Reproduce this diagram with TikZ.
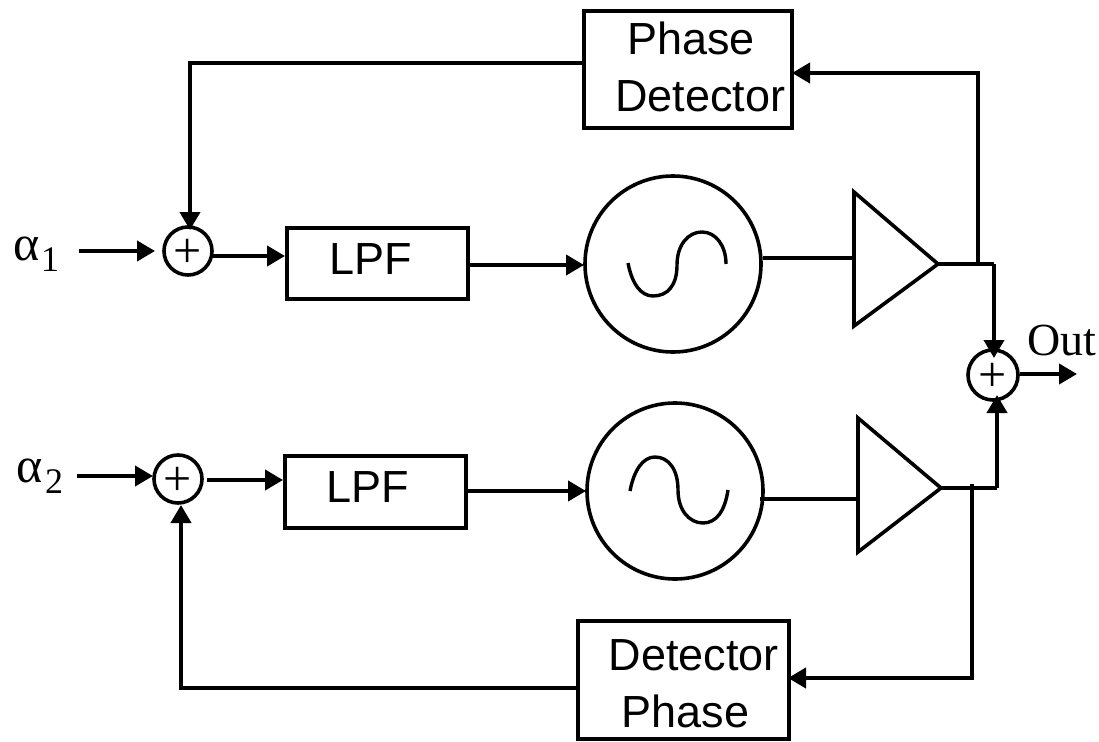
\documentclass[tikz,border=0pt]{standalone}
\usepackage{fontspec}
\setmainfont{Liberation Sans}
\newfontfamily\serifa{Liberation Serif}
\usetikzlibrary{arrows.meta}
\tikzset{
  x=1pt,y=-1pt,
  box/.style={draw,line width=4pt,inner sep=0pt},
  txt/.style={inner sep=0pt,anchor=base west,font=\fontsize{45}{52}\selectfont},
  sumn/.style={draw,circle,line width=3.6pt,minimum size=48pt,inner sep=0pt},
  plus/.style={inner sep=0pt,font=\serifa\fontsize{50}{50}\selectfont},
  osc/.style={draw,circle,line width=3.6pt,minimum size=176pt,inner sep=0pt},
  wave/.style={line width=3.4pt},
  wire/.style={line width=4pt},
  arr/.style={line width=4pt,-{Triangle[length=18pt,width=20pt]}},
  lab/.style={inner sep=0pt,anchor=base west,font=\serifa\fontsize{50}{50}\selectfont},
  subl/.style={inner sep=0pt,anchor=base west,font=\serifa\fontsize{36}{36}\selectfont},
  amp/.style={draw,line width=3.6pt,line join=miter,fill=white}
}
\begin{document}
\begin{tikzpicture}
\useasboundingbox (0,0) rectangle (1099,741);
\node[box,minimum width=208pt,minimum height=117pt] (pd1) at (688,69.5) {};
\node[txt] (pd1a) at (627,55) {Phase};
\node[txt] (pd1b) at (615,112) {Detector};
\node[box,minimum width=181pt,minimum height=71pt] (lpf1) at (377.5,263.5) {};
\node[txt] (lpf1t) at (329.5,274) {LPF};
\node[box,minimum width=181pt,minimum height=72pt] (lpf2) at (375.5,492) {};
\node[txt] (lpf2t) at (326.5,502) {LPF};
\node[box,minimum width=211pt,minimum height=118pt] (pd2) at (683.5,680) {};
\node[txt] (pd2a) at (608.5,670) {Detector};
\node[txt] (pd2b) at (621.5,727) {Phase};
\node[sumn] (s1) at (188,251) {};
\node[plus] (p1) at (188,253) {+};
\node[sumn] (s2) at (178,479) {};
\node[plus] (p2) at (178,481) {+};
\node[sumn,minimum size=50pt] (s3) at (993,375) {};
\node[plus] (p3) at (993,377) {+};
\node[osc] (o1) at (673,264) {};
\node[osc] (o2) at (675,491) {};
\draw[wave] (628,263) .. controls (632,284) and (641,296) .. (653,296) .. controls (668,296) and (677,285) .. (677,265) .. controls (677,245) and (688,232) .. (702,232) .. controls (716,232) and (726,246) .. (726,264);
\draw[wave] (630,491) .. controls (634,470) and (643,457) .. (655,457) .. controls (669,457) and (678,470) .. (678,490) .. controls (678,510) and (689,523) .. (703,523) .. controls (717,523) and (725,510) .. (728,490);
\coordinate (a1) at (854,192);
\coordinate (a1b) at (854,326);
\coordinate (a1t) at (938,264);
\coordinate (a2) at (858,418);
\coordinate (a2b) at (858,552);
\coordinate (a2t) at (941,488);
\draw[amp] (a1) -- (a1t) -- (a1b) -- cycle;
\draw[amp] (a2) -- (a2t) -- (a2b) -- cycle;
\node[lab] (alpha1) at (13,260) {α};
\node[subl] (sub1) at (41,271) {1};
\node[lab] (alpha2) at (16,482) {α};
\node[subl] (sub2) at (45,493) {2};
\node[inner sep=0pt,font=\serifa\fontsize{46}{46}\selectfont] (out) at (1062,340) {Out};
\coordinate (in1) at (79,251);
\coordinate (in2) at (77,476);
\coordinate (outend) at (1077,374);
\coordinate (j1) at (978,264);
\coordinate (j2) at (972,484);
\coordinate (c1) at (994,264);
\coordinate (c2) at (997,488);
\draw[arr] (in1) -- (155,251);
\draw[arr] (in2) -- (153,476);
\draw[arr] (213,256) -- (285,256);
\draw[arr] (207,480) -- (283,480);
\draw[arr] (469,265) -- (584,265);
\draw[arr] (468,491) -- (586,491);
\draw[wire] (763,258) -- (854,258);
\draw[wire] (760,499) -- (858,499);
\draw[wire] (a1t) -- (c1);
\draw[arr] (c1) -- (994,358);
\draw[arr] (j1) -- (978,73) -- (792,73);
\draw[wire] (a2t) -- (c2);
\draw[arr] (c2) -- (997,395);
\draw[arr] (j2) -- (972,678) -- (788,678);
\draw[arr] (584,63) -- (190,63) -- (190,230);
\draw[arr] (578,688) -- (181,688) -- (181,505);
\draw[arr] (s3.east|-outend) -- (outend);
\end{tikzpicture}
\end{document}
